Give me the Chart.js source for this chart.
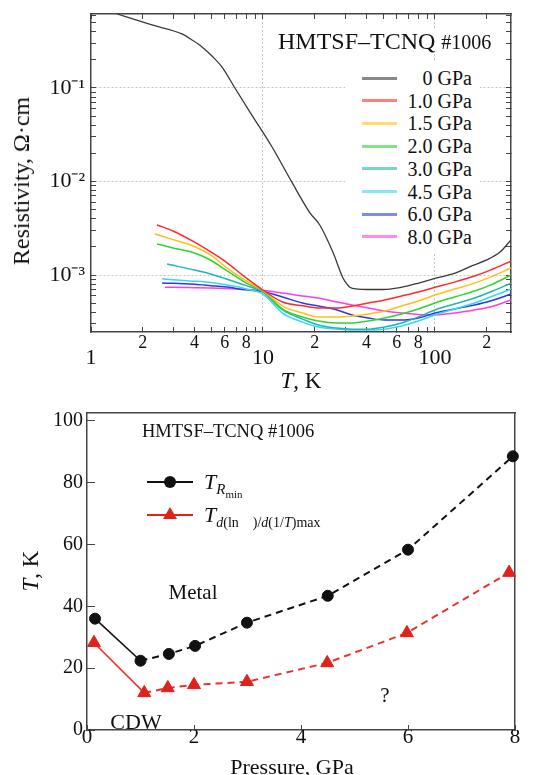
<!DOCTYPE html>
<html>
<head>
<meta charset="utf-8">
<script src="https://cdn.jsdelivr.net/npm/chart.js@4.4.0/dist/chart.umd.min.js"></script>
<style>
  body { margin: 0; background: #fff; }
  #wrap { position: relative; width: 533px; height: 775px; font-family: 'Liberation Serif', 'Times New Roman', serif; color: #111; overflow: hidden; }
  canvas { position: absolute; left: 0; }
  .lbl { position: absolute; white-space: nowrap; line-height: 1; }
  .rot { transform: translate(-50%, -50%) rotate(-90deg); }
  #rhoLegend { position: absolute; left: 345px; top: 62px; width: 135px; height: 192px; background: #fff; }
  #rhoLegend .sw { position: absolute; left: 17px; width: 35px; height: 3px; opacity: 0.6; }
  #rhoLegend .txt { position: absolute; right: 8px; font-size: 20px; line-height: 1; white-space: nowrap; }
  .leg2 { position: absolute; left: 147px; width: 46px; height: 2px; }
  sub { line-height: 1; }
</style>
</head>
<body>
<div id="wrap">
  <canvas id="rhoChart" width="533" height="395" style="top:0"></canvas>
  <canvas id="phaseChart" width="533" height="380" style="top:395px"></canvas>

  <!-- top panel texts -->
  <div class="lbl" style="left:275px;top:29px;font-size:24px;background:#fff;padding:0 3px">HMTSF–TCNQ <span style="font-size:20px">#1006</span></div>
  <div id="rhoLegend"></div>
  <div class="lbl rot" style="left:21px;top:181px;font-size:24px">Resistivity, Ω·cm</div>
  <div class="lbl" style="left:301px;top:380px;font-size:23px;transform:translate(-50%,-50%)"><i>T</i>, K</div>

  <!-- bottom panel texts -->
  <div class="lbl" style="left:142px;top:422px;font-size:18.5px">HMTSF–TCNQ #1006</div>
  <div class="leg2" style="top:481px;background:#111"></div>
  <div style="position:absolute;left:164px;top:476px;width:12px;height:12px;border-radius:50%;background:#111"></div>
  <div class="lbl" style="left:204px;top:471px;font-size:22px"><i>T</i><sub style="font-size:15px"><i>R</i><sub style="font-size:11px">min</sub></sub></div>
  <div class="leg2" style="top:514px;background:#e0221c"></div>
  <div style="position:absolute;left:163px;top:507px;width:0;height:0;border-left:7px solid transparent;border-right:7px solid transparent;border-bottom:12px solid #e0221c"></div>
  <div class="lbl" style="left:204px;top:504px;font-size:22px"><i>T</i><sub style="font-size:14px"><i>d</i>(ln&nbsp;&nbsp;&nbsp;&nbsp;)/<i>d</i>(1/<i>T</i>)max</sub></div>
  <div class="lbl" style="left:193px;top:592px;font-size:21px;transform:translate(-50%,-50%)">Metal</div>
  <div class="lbl" style="left:136px;top:722px;font-size:22px;transform:translate(-50%,-50%)">CDW</div>
  <div class="lbl" style="left:385px;top:695px;font-size:21px;transform:translate(-50%,-50%)">?</div>
  <div class="lbl rot" style="left:30px;top:571px;font-size:23px"><i>T</i>, K</div>
  <div class="lbl" style="left:292px;top:767px;font-size:22px;transform:translate(-50%,-50%)">Pressure, GPa</div>
</div>

<script>
// ---- top panel: resistivity vs temperature ----
var pressureLabels = ['0 GPa', '1.0 GPa', '1.5 GPa', '2.0 GPa', '3.0 GPa', '4.5 GPa', '6.0 GPa', '8.0 GPa'];
var curveColors = ['#3a3a3a', '#ff2a2a', '#ffbf1a', '#2fd42f', '#1fb5b5', '#35d8f2', '#2a3ae6', '#ff3ee0'];

// 0 GPa curve
var temp0 = [1.42, 2.26, 3.38, 3.87, 4.42, 5.05, 5.77, 6.87, 8.4, 11.3, 14.7, 18.8, 21.4, 25.5, 29.2, 30.8, 32.0, 35.7, 40.2, 49.8, 62.6, 78.6, 100, 131, 165, 200, 239, 277];
var rho0 = [0.618, 0.472, 0.379, 0.326, 0.275, 0.22, 0.168, 0.1, 0.0553, 0.0234, 0.0099, 0.0046, 0.00343, 0.00176, 0.00093, 0.0008, 0.00074, 0.000708, 0.0007, 0.0007, 0.000735, 0.00081, 0.00092, 0.00105, 0.00126, 0.00145, 0.00176, 0.00237];

// pressure curves: first temperature differs, then common grid
var startTemps = [2.42, 2.35, 2.42, 2.77, 2.59, 2.59, 2.69];
var tempGrid = [3, 4, 5, 6, 8, 10, 13, 17, 21, 27, 33, 41, 51, 64, 80, 100, 130, 170, 210, 277];
var rho10 = [3.43e-3, 2.96e-3, 2.25e-3, 1.76e-3, 1.41e-3, 9.3e-4, 6.9e-4, 5.15e-4, 4.7e-4, 4.44e-4, 4.44e-4, 4.66e-4, 5.02e-4, 5.41e-4, 5.96e-4, 6.58e-4, 7.4e-4, 8.4e-4, 9.76e-4, 1.13e-3, 1.41e-3];
var rho15 = [2.75e-3, 2.39e-3, 2.02e-3, 1.62e-3, 1.24e-3, 8.6e-4, 6.8e-4, 4.66e-4, 3.92e-4, 3.56e-4, 3.56e-4, 3.64e-4, 3.83e-4, 4.12e-4, 4.66e-4, 5.27e-4, 6.11e-4, 7.08e-4, 8.2e-4, 9.5e-4, 1.19e-3];
var rho20 = [2.15e-3, 1.95e-3, 1.72e-3, 1.43e-3, 1.15e-3, 8.2e-4, 6.74e-4, 4.33e-4, 3.56e-4, 3.22e-4, 3.07e-4, 3.07e-4, 3.22e-4, 3.47e-4, 3.83e-4, 4.33e-4, 5.02e-4, 5.82e-4, 6.74e-4, 7.8e-4, 1.0e-3];
var rho30 = [1.31e-3, 1.27e-3, 1.13e-3, 1.02e-3, 9.2e-4, 7.7e-4, 6.58e-4, 4.23e-4, 3.38e-4, 2.92e-4, 2.71e-4, 2.64e-4, 2.64e-4, 2.78e-4, 3.07e-4, 3.56e-4, 4.23e-4, 4.9e-4, 5.68e-4, 6.58e-4, 8.2e-4];
var rho45 = [9.1e-4, 8.9e-4, 8.6e-4, 8.3e-4, 7.9e-4, 7.1e-4, 6.26e-4, 3.92e-4, 3.14e-4, 2.78e-4, 2.64e-4, 2.58e-4, 2.58e-4, 2.64e-4, 2.85e-4, 3.22e-4, 3.74e-4, 4.33e-4, 5.02e-4, 5.82e-4, 7.08e-4];
var rho60 = [8.2e-4, 8.17e-4, 7.97e-4, 7.7e-4, 7.48e-4, 6.94e-4, 6.66e-4, 5.82e-4, 5.02e-4, 4.66e-4, 4.23e-4, 3.74e-4, 3.47e-4, 3.3e-4, 3.3e-4, 3.47e-4, 3.92e-4, 4.33e-4, 4.78e-4, 5.27e-4, 6.26e-4];
var rho80 = [7.4e-4, 7.4e-4, 7.33e-4, 7.26e-4, 7.17e-4, 7.0e-4, 6.82e-4, 6.42e-4, 5.96e-4, 5.68e-4, 5.15e-4, 4.78e-4, 4.44e-4, 4.12e-4, 3.92e-4, 3.79e-4, 3.74e-4, 3.92e-4, 4.23e-4, 4.55e-4, 5.41e-4];
var pressureRhos = [rho10, rho15, rho20, rho30, rho45, rho60, rho80];

// ---- bottom panel: characteristic temperatures vs pressure ----
var pressRmin = [0.15, 1.0, 1.53, 2.02, 2.99, 4.5, 6.0, 7.96];
var tempRmin = [36.0, 22.4, 24.6, 27.2, 34.7, 43.4, 58.3, 88.5];
var pressDmax = [0.13, 1.07, 1.51, 2.0, 2.99, 4.49, 5.98, 7.89];
var tempDmax = [28.2, 12.0, 13.6, 14.6, 15.6, 21.7, 31.4, 50.9];

Chart.defaults.font.family = "'Liberation Serif', 'Times New Roman', serif";
Chart.defaults.color = '#111';

function mantissa(v) {
  var e = Math.floor(Math.log10(v) + 1e-9);
  return { m: v / Math.pow(10, e), e: e };
}
function keepDecadeSteps(scale) {
  scale.ticks = scale.ticks.filter(function (t) {
    var p = mantissa(t.value);
    return Math.abs(p.m - Math.round(p.m)) < 1e-6 && Math.round(p.m) < 10;
  });
}
function isDecade(v) { return Math.round(mantissa(v).m) === 1; }
function superscript(n) {
  var map = { '-': '⁻', '0': '⁰', '1': '¹', '2': '²', '3': '³', '4': '⁴', '5': '⁵', '6': '⁶', '7': '⁷', '8': '⁸', '9': '⁹' };
  return String(n).split('').map(function (c) { return map[c]; }).join('');
}
// fixed axis sizes, and no extra room for half-labels at the ends
function fixWidth(w) { return function (s) { s.width = w; s.paddingTop = 0; s.paddingBottom = 0; }; }
function fixHeight(h) { return function (s) { s.height = h; s.paddingLeft = 0; s.paddingRight = 0; }; }

var toPoints = function (xs, ys) { return xs.map(function (x, i) { return { x: x, y: ys[i] }; }); };

var rhoDatasets = [{
  label: pressureLabels[0],
  data: toPoints(temp0, rho0),
  borderColor: curveColors[0],
  borderWidth: 1.3
}];
pressureRhos.forEach(function (rho, i) {
  rhoDatasets.push({
    label: pressureLabels[i + 1],
    data: toPoints([startTemps[i]].concat(tempGrid), rho),
    borderColor: curveColors[i + 1],
    borderWidth: 1.5
  });
});

var tMin = 1, tMax = 277, rMin = 2.46e-4, rMax = 0.618;
var frame = '#444';

var rhoChart = new Chart(document.getElementById('rhoChart'), {
  type: 'line',
  data: { datasets: rhoDatasets },
  options: {
    responsive: false,
    animation: false,
    elements: { point: { radius: 0 }, line: { cubicInterpolationMode: 'monotone' } },
    plugins: { legend: { display: false }, tooltip: { enabled: false } },
    scales: {
      x: {
        type: 'logarithmic', position: 'bottom', min: tMin, max: tMax,
        afterBuildTicks: keepDecadeSteps,
        afterFit: fixHeight(63),
        ticks: {
          autoSkip: false, maxRotation: 0, minRotation: 0, padding: 5,
          font: function (ctx) {
            return ctx.tick && isDecade(ctx.tick.value) ? { size: 22, lineHeight: 0.79 } : { size: 18 };
          },
          callback: function (v) {
            var m = Math.round(mantissa(v).m);
            if (m === 1) return ['', String(Math.round(v))];
            if (m % 2 === 0) return String(m);
            return '';
          }
        },
        grid: {
          color: function (ctx) { return ctx.tick && isDecade(ctx.tick.value) && ctx.tick.value > 1.5 ? '#c4c4c4' : 'rgba(0,0,0,0)'; },
          tickColor: frame, tickLength: -5, tickWidth: 1
        },
        border: { color: frame, width: 1.5, dash: [2, 2] }
      },
      x2: {
        type: 'logarithmic', position: 'top', min: tMin, max: tMax,
        afterBuildTicks: keepDecadeSteps,
        afterFit: fixHeight(14),
        ticks: { display: false },
        grid: { drawOnChartArea: false, tickColor: frame, tickLength: -5 },
        border: { color: frame, width: 1.5 }
      },
      y: {
        type: 'logarithmic', position: 'left', min: rMin, max: rMax,
        afterBuildTicks: keepDecadeSteps,
        afterFit: fixWidth(91),
        ticks: {
          autoSkip: false, padding: 11, font: { size: 22 },
          callback: function (v) {
            var p = mantissa(v);
            return Math.round(p.m) === 1 ? '10' + superscript(p.e) : '';
          }
        },
        grid: {
          color: function (ctx) { return ctx.tick && isDecade(ctx.tick.value) ? '#c4c4c4' : 'rgba(0,0,0,0)'; },
          tickColor: frame, tickLength: -5
        },
        border: { color: frame, width: 1.5, dash: [2, 2] }
      },
      y2: {
        type: 'logarithmic', position: 'right', min: rMin, max: rMax,
        afterBuildTicks: keepDecadeSteps,
        afterFit: fixWidth(22),
        ticks: { display: false },
        grid: { drawOnChartArea: false, tickColor: frame, tickLength: -5 },
        border: { color: frame, width: 1.5 }
      }
    }
  }
});

// legend for the top panel, built from the chart's datasets
var legendBox = document.getElementById('rhoLegend');
rhoChart.data.datasets.forEach(function (ds, i) {
  var cy = 16 + i * 22.7;
  var sw = document.createElement('div');
  sw.className = 'sw';
  sw.style.top = (cy - 1.5) + 'px';
  sw.style.background = ds.borderColor;
  legendBox.appendChild(sw);
  var tx = document.createElement('div');
  tx.className = 'txt';
  tx.style.top = (cy - 10) + 'px';
  tx.textContent = ds.label;
  legendBox.appendChild(tx);
});

var dashAfterFirst = function (ctx) { return ctx.p0DataIndex >= 1 ? [7, 5] : undefined; };
var widthAfterFirst = function (ctx) { return ctx.p0DataIndex >= 1 ? 2 : 1.6; };

new Chart(document.getElementById('phaseChart'), {
  type: 'line',
  data: {
    datasets: [{
      label: 'T_Rmin',
      data: toPoints(pressRmin, tempRmin),
      borderColor: '#111',
      backgroundColor: '#111',
      pointStyle: 'circle',
      pointRadius: 5.5,
      pointBorderWidth: 1,
      borderDash: [],
      segment: { borderDash: dashAfterFirst, borderWidth: widthAfterFirst },
      clip: 12
    }, {
      label: 'T_dmax',
      data: toPoints(pressDmax, tempDmax),
      borderColor: '#e8332d',
      backgroundColor: '#e0221c',
      pointBorderColor: '#e0221c',
      pointStyle: 'triangle',
      pointRadius: 7.5,
      pointBorderWidth: 1,
      borderDash: [],
      segment: { borderDash: dashAfterFirst, borderWidth: widthAfterFirst },
      clip: 12
    }]
  },
  options: {
    responsive: false,
    animation: false,
    plugins: { legend: { display: false }, tooltip: { enabled: false } },
    scales: {
      x: {
        type: 'linear', position: 'bottom', min: 0, max: 8,
        afterFit: fixHeight(45),
        ticks: { stepSize: 2, padding: 0, font: { size: 21 }, maxRotation: 0 },
        grid: { drawOnChartArea: false, tickColor: frame, tickLength: -5 },
        border: { color: frame, width: 1.5 }
      },
      x2: {
        type: 'linear', position: 'top', min: 0, max: 8,
        afterFit: fixHeight(18),
        ticks: { display: false },
        grid: { drawOnChartArea: false, drawTicks: false },
        border: { color: frame, width: 1.5 }
      },
      y: {
        type: 'linear', position: 'left', min: 0, max: 102.5,
        afterFit: fixWidth(87),
        ticks: { stepSize: 20, includeBounds: false, padding: 12, font: { size: 20 } },
        grid: { drawOnChartArea: false, tickColor: frame, tickLength: -8 },
        border: { color: frame, width: 1.5 }
      },
      y2: {
        type: 'linear', position: 'right', min: 0, max: 102.5,
        afterFit: fixWidth(18),
        ticks: { display: false },
        grid: { drawOnChartArea: false, drawTicks: false },
        border: { color: frame, width: 1.5 }
      }
    }
  }
});
</script>
</body>
</html>
